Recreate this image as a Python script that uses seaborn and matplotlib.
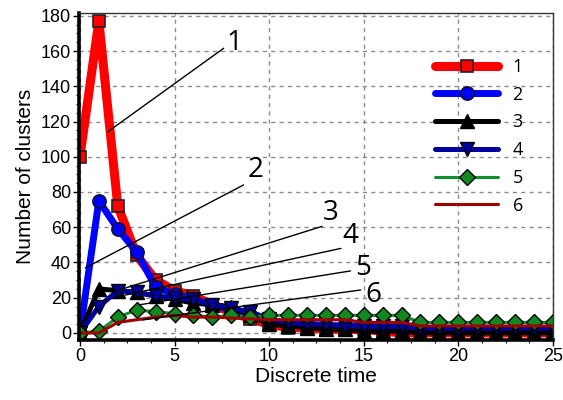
import numpy as np
import matplotlib
matplotlib.use("Agg")
import matplotlib.pyplot as plt
import seaborn as sns
from matplotlib.ticker import MultipleLocator, AutoMinorLocator

# data
t = list(range(26))
s1 = [100, 177, 72, 44, 30, 24, 21, 16, 12, 8, 5, 3, 3, 2, 2, 2, 1, 0, 0, 0, 0, 0, 0, 0, 0, 0]
s2 = [0, 75, 59, 46, 26, 22, 19, 16, 13, 10, 7, 5, 5, 4, 4, 4, 3, 3, 2, 2, 2, 2, 2, 2, 2, 2]
s3 = [0, 25, 24, 23, 21, 19, 17, 16, 15, 10, 5, 4, 3, 2, 2, 1, 1, 1, 0, 0, 0, 0, 0, 0, 0, 0]
s4 = [0, 15, 24, 23, 21, 20, 19, 16, 14, 12, 8, 6, 5, 5, 4, 4, 4, 4, 3, 3, 3, 3, 3, 3, 3, 3]
s5 = [0, 1, 9, 13, 12, 11, 10, 9, 10, 9, 10, 10, 10, 10, 10, 10, 10, 10, 6, 6, 6, 6, 6, 6, 6, 6]
s6 = [0, 0, 6, 7.5, 9, 10, 9, 9, 8.5, 8, 7.5, 7.5, 7.5, 7.5, 7.5, 6, 6, 6, 4, 4, 4, 4, 4, 4, 4, 4]
labels = ['1', '2', '3', '4', '5', '6']

sns.set_style("white")
plt.rcParams['font.family'] = ['Liberation Sans', 'DejaVu Sans']
plt.rcParams['text.color'] = 'black'
plt.rcParams['axes.labelcolor'] = 'black'
plt.rcParams['xtick.color'] = 'black'
plt.rcParams['ytick.color'] = 'black'
plt.rcParams['xtick.bottom'] = True
plt.rcParams['ytick.left'] = True

fig = plt.figure(figsize=(5.63, 4.0), dpi=100)
ax = fig.add_axes([0.141, 0.15, 0.841, 0.818])

styles = [
    dict(color='#ff0000', lw=6.5, marker='s', ms=8.5, mfc='#ff0000', mec='#222222', mew=1.2),
    dict(color='#0000ff', lw=5.0, marker='o', ms=9.5, mfc='#0000ff', mec='#111133', mew=1.2),
    dict(color='#000000', lw=3.6, marker='^', ms=10, mfc='#000000', mec='#000000', mew=1.0),
    dict(color='#00009c', lw=3.6, marker='v', ms=10, mfc='#00009c', mec='#000000', mew=1.0),
    dict(color='#109030', lw=2.2, marker='D', ms=8.5, mfc='#108a20', mec='#000000', mew=1.0),
    dict(color='#9c0000', lw=2.2),
]
series = [s1, s2, s3, s4, s5, s6]

for vals, lab, st in zip(series, labels, styles):
    sns.lineplot(x=t, y=vals, ax=ax, label=lab, **st)

ax.set_xlim(-0.03, 25)
ax.set_ylim(-4, 181.7)
ax.xaxis.set_major_locator(MultipleLocator(5))
ax.yaxis.set_major_locator(MultipleLocator(20))
ax.xaxis.set_minor_locator(AutoMinorLocator(4))
ax.yaxis.set_minor_locator(AutoMinorLocator(4))
ax.grid(True, which='major', color='#8c8c8c', linestyle=(0, (3, 3)), linewidth=1.0)
ax.tick_params(which='major', direction='out', length=4, width=1, labelsize=13, colors='black')
ax.tick_params(which='minor', direction='out', length=2, width=0.8)
ax.tick_params(axis='x', pad=2)
ax.tick_params(axis='y', pad=2)

for side in ['left', 'bottom']:
    ax.spines[side].set_linewidth(2.6)
    ax.spines[side].set_color('black')
for side in ['top', 'right']:
    ax.spines[side].set_linewidth(1.0)
    ax.spines[side].set_color('#333333')

ax.set_xlabel('Discrete time', fontsize=15, labelpad=1)
ax.set_ylabel('Number of clusters', fontsize=15, labelpad=4)

# leader lines with curve numbers
ann_text = [(8.17, 164.5), (9.29, 92.4), (13.25, 68), (14.3, 55), (14.95, 36.9), (15.5, 21.5)]
ann_from = [(7.6, 161.6), (8.65, 84), (12.8, 60.5), (13.8, 48), (14.3, 35.2), (14.84, 24.4)]
ann_to = [(1.45, 114), (0.29, 37), (1.72, 23.2), (2.4, 21.5), (3.1, 15.9), (3.3, 7.4)]
for lab, (tx, ty), (x0, y0), (x1, y1) in zip(labels, ann_text, ann_from, ann_to):
    ax.plot([x0, x1], [y0, y1], color='black', lw=1.0, zorder=5)
    ax.text(tx, ty, lab, fontsize=20, family=['Open Sans', 'DejaVu Sans'],
            ha='center', va='center', zorder=6, color='black')

leg = ax.legend(loc='upper left', bbox_to_anchor=(0.751, 0.862), frameon=False,
                borderpad=0, borderaxespad=0, handlelength=3.5, handletextpad=0.8,
                labelspacing=0.54, prop={'family': 'Open Sans', 'size': 13})

plt.savefig('out.png', dpi=100)
